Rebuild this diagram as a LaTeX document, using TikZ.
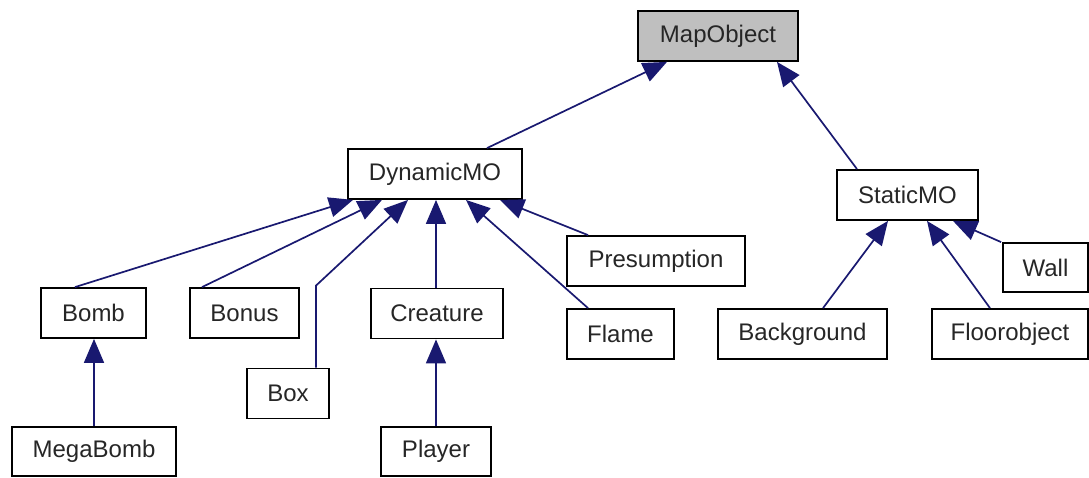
\documentclass[tikz,border=0pt]{standalone}
\usepackage{fontspec}
\setmainfont{Liberation Sans}
\usetikzlibrary{arrows.meta}
\definecolor{edgeblue}{HTML}{191970}
\definecolor{rootgray}{HTML}{BFBFBF}
\begin{document}
\begin{tikzpicture}[x=1pt,y=-1pt,
  cls/.style={draw=black,line width=1.8pt,minimum height=50pt,inner sep=0pt,
    font=\fontsize{24}{28}\selectfont,text=black!85},
  inh/.style={draw=edgeblue,line width=1.7pt,-{Triangle[length=24pt,width=20pt]},fill=none},
]
\useasboundingbox (0,0) rectangle (1089,477);
\node[cls,fill=rootgray,minimum width=160pt] (map) at (718,36) {MapObject};
\node[cls,minimum width=174pt] (dyn) at (435,174) {DynamicMO};
\node[cls,minimum width=141pt] (stat) at (907.5,195) {StaticMO};
\node[cls,minimum width=178pt] (pres) at (656,261) {Presumption};
\node[cls,minimum width=85pt,minimum height=49pt] (wall) at (1045.5,267.5) {Wall};
\node[cls,minimum width=105pt] (bomb) at (93.5,313) {Bomb};
\node[cls,minimum width=109pt] (bonus) at (244.5,313) {Bonus};
\node[cls,minimum width=132pt] (creat) at (437,313.5) {Creature};
\node[cls,minimum width=107pt] (flame) at (620.5,334) {Flame};
\node[cls,minimum width=169pt] (bg) at (802.5,334) {Background};
\node[cls,minimum width=156pt] (floor) at (1010,334) {Floorobject};
\node[cls,minimum width=82pt] (box) at (288,393.5) {Box};
\node[cls,minimum width=164pt,minimum height=49pt] (mega) at (94,451.5) {MegaBomb};
\node[cls,minimum width=110pt,minimum height=49pt] (player) at (436,451.5) {Player};

\draw[inh] ([xshift=52pt]dyn.north) -- ([xshift=-51pt]map.south);
\draw[inh] ([xshift=-50.5pt]stat.north) -- ([xshift=59pt]map.south);
\draw[inh] ([xshift=-18.5pt]bomb.north) -- ([xshift=-82pt]dyn.south);
\draw[inh] ([xshift=-42.5pt]bonus.north) -- ([xshift=-53pt]dyn.south);
\coordinate (boxbend) at ([xshift=28pt,yshift=82pt]box.north);
\draw[inh] ([xshift=28pt]box.north) -- (boxbend) -- ([xshift=-27pt]dyn.south);
\draw[inh] ([xshift=-1pt]creat.north) -- ([xshift=-1pt]creat.north |- dyn.south);
\draw[inh] ([xshift=-32.5pt]flame.north) -- ([xshift=31pt]dyn.south);
\draw[inh] ([xshift=-68pt]pres.north) -- ([xshift=65pt]dyn.south);
\draw[inh] (mega.north) -- (mega.north |- bomb.south);
\draw[inh] (player.north) -- (player.north |- creat.south);
\draw[inh] ([xshift=20.5pt]bg.north) -- ([xshift=-19.5pt]stat.south);
\draw[inh] ([xshift=-20pt]floor.north) -- ([xshift=19.5pt]stat.south);
\draw[inh] ([xshift=-1pt]wall.north west) -- ([xshift=45.5pt]stat.south);
\end{tikzpicture}
\end{document}
